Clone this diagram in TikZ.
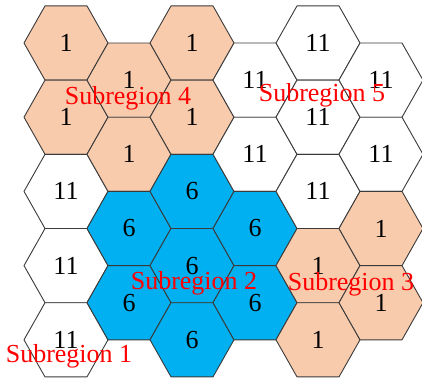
\documentclass[tikz,border=0pt]{standalone}
\usepackage{fontspec}
\setmainfont{Liberation Serif}
\definecolor{peach}{HTML}{F8CBAD}
\definecolor{cellblue}{HTML}{00B0F0}
\definecolor{edge}{HTML}{3A3A3A}

\begin{document}
\begin{tikzpicture}[x=1pt, y=-1pt, font=\fontsize{26}{28}\selectfont,
    cell/.style={draw=edge, line width=0.9pt, line join=round},
    region/.style={text=red}]
  \useasboundingbox (0,0) rectangle (422,380);
  % hexagon cells: column/row/fill/value
  \foreach \c/\r/\col/\val in {
      0/0/peach/1, 0/1/peach/1, 0/2/white/11, 0/3/white/11, 0/4/white/11,
      1/0/peach/1, 1/1/peach/1, 1/2/cellblue/6, 1/3/cellblue/6,
      2/0/peach/1, 2/1/peach/1, 2/2/cellblue/6, 2/3/cellblue/6, 2/4/cellblue/6,
      3/0/white/11, 3/1/white/11, 3/2/cellblue/6, 3/3/cellblue/6,
      4/0/white/11, 4/1/white/11, 4/2/white/11, 4/3/peach/1, 4/4/peach/1,
      5/0/white/11, 5/1/white/11, 5/2/peach/1, 5/3/peach/1}
    {\pgfmathsetmacro\cx{66+63*\c}
     \pgfmathsetmacro\cy{43+74.2*\r+37.1*mod(\c,2)}
     \draw[cell, fill=\col, shift={(\cx,\cy)}]
       (-42,0) -- (-21,-37.1) -- (21,-37.1) -- (42,0) -- (21,37.1) -- (-21,37.1) -- cycle;
     \node (c\c\r) at (\cx,\cy) {\val};}
  \node[region] (sub1) at (69,356) {Subregion 1};
  \node[region] (sub2) at (194,283) {Subregion 2};
  \node[region] (sub3) at (351,284) {Subregion 3};
  \node[region] (sub4) at (128,98) {Subregion 4};
  \node[region] (sub5) at (322,95) {Subregion 5};
\end{tikzpicture}
\end{document}
